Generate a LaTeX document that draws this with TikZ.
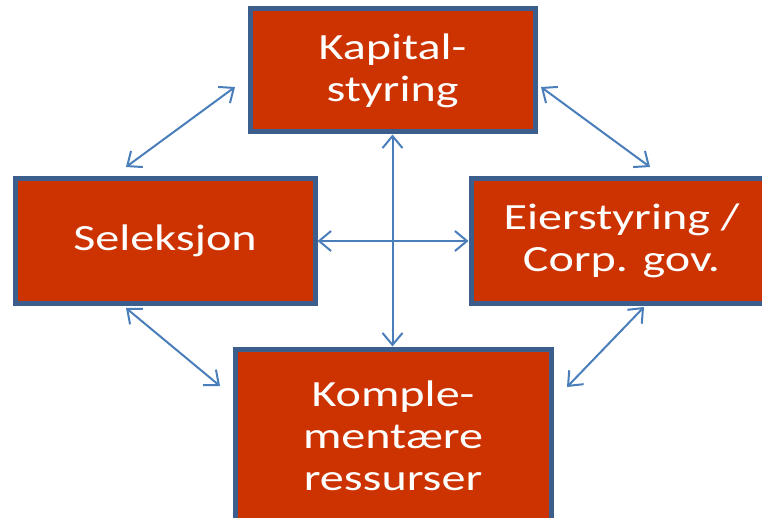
\documentclass[tikz,border=0pt]{standalone}
\usepackage{fontspec}
\setmainfont{Carlito}[FakeStretch=1.3]
\usetikzlibrary{arrows.meta}
\definecolor{boxfill}{RGB}{204,51,0}
\definecolor{boxline}{RGB}{59,94,140}
\definecolor{arrowc}{RGB}{74,126,187}
\begin{document}
\begin{tikzpicture}[x=1pt,y=-1pt,
  box/.style={rectangle,draw=boxline,fill=boxfill,line width=5pt,text=white,
    align=center,font=\fontsize{37}{42}\selectfont,inner sep=0pt},
  link/.style={draw=arrowc,line width=2pt,{Straight Barb[length=12pt,width=20pt]}-{Straight Barb[length=12pt,width=20pt]}}]
\useasboundingbox (0,0) rectangle (762,518);
\clip (0,0) rectangle (762,518);
\node[box,minimum width=285pt,minimum height=123pt] (kap) at (392.5,70.5) {Kapital-\\styring};
\node[box,minimum width=300pt,minimum height=124pt] (sel) at (165,241) {Seleksjon};
\node[box,minimum width=301pt,minimum height=124pt] (eier) at (621.5,241) {Eierstyring /\\Corp. gov.};
\node[box,minimum width=316pt,minimum height=174pt] (komp) at (393,436) {Komple-\\mentære\\ressurser};
\coordinate (tl1) at (126,167); \coordinate (tl2) at (235,87);
\coordinate (tr1) at (541,87); \coordinate (tr2) at (650,167);
\coordinate (bl1) at (126,308); \coordinate (bl2) at (220,386);
\coordinate (br1) at (644,307); \coordinate (br2) at (567,387);
\draw[link] (sel.east) -- (eier.west);
\draw[link] (kap.south) -- (kap.south |- komp.north);
\draw[link] (tl1) -- (tl2);
\draw[link] (tr1) -- (tr2);
\draw[link] (bl1) -- (bl2);
\draw[link] (br1) -- (br2);
\end{tikzpicture}
\end{document}
